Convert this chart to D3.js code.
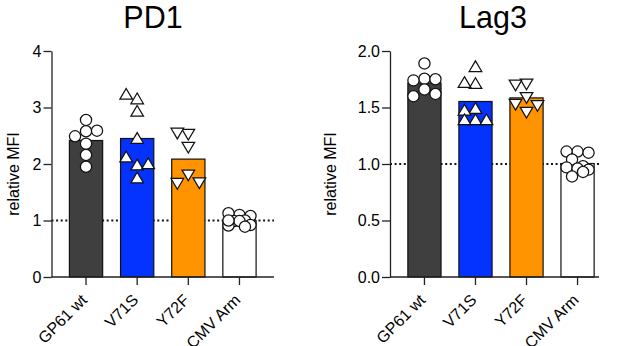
<!DOCTYPE html>
<html>
<head>
<meta charset="utf-8">
<script src="https://cdn.jsdelivr.net/npm/d3@7"></script>
<style>
  body { margin: 0; background: #fff; }
  svg { display: block; font-family: Arial, "Liberation Sans", sans-serif; }
</style>
</head>
<body>
<script>
// categories
const groups = ["GP61 wt", "V71S", "Y72F", "LCMV Arm"];
const symbols = ["circle", "up", "down", "circle"];
const barColors = ["#3f3f3f", "#0433ff", "#ff9300", "#ffffff"];

// PD1 relative MFI, one value per mouse (order = drawing order)
const pd1GP61 = [2.78, 2.58, 2.49, 2.59, 2.36, 2.16, 1.95];
const pd1V71S = [3.15, 3.23, 2.93, 2.45, 1.98, 2.12, 2.0, 1.75];
const pd1Y72F = [2.53, 2.55, 2.30, 1.81, 1.66, 1.67];
const pd1LCMV = [1.10, 1.13, 1.08, 0.99, 1.0, 0.99, 0.92, 0.91, 0.89, 1.0];

// Lag3 relative MFI
const lag3GP61 = [1.89, 1.755, 1.74, 1.75, 1.66, 1.6, 1.62];
const lag3V71S = [1.86, 1.71, 1.72, 1.49, 1.475, 1.39, 1.39, 1.39];
const lag3Y72F = [1.71, 1.70, 1.59, 1.53, 1.52, 1.46];
const lag3LCMV = [1.11, 1.11, 1.10, 1.04, 0.98, 0.97, 0.96, 0.95, 0.89, 0.93];

// y tick labels
const pd1Ticks = [0, 1, 2, 3, 4];
const lag3Ticks = [0, 0.5, 1.0, 1.5, 2.0];

const width = 617, height = 346;
const font = "Arial, 'Liberation Sans', sans-serif";

const svg = d3.select("body").append("svg")
    .attr("width", width)
    .attr("height", height)
    .attr("viewBox", [0, 0, width, height]);

// panel layout
const panels = [
  { title: "PD1", series: [pd1GP61, pd1V71S, pd1Y72F, pd1LCMV], ticks: pd1Ticks, fmt: d3.format("d"),
    yMax: 4, left: 51.5, axisEnd: 274, bandEnd: 274, titleX: 153, labelX: 13 },
  { title: "Lag3", series: [lag3GP61, lag3V71S, lag3Y72F, lag3LCMV], ticks: lag3Ticks, fmt: d3.format(".1f"),
    yMax: 2, left: 390, axisEnd: 599, bandEnd: 612, titleX: 493, labelX: 330 }
];
const plotTop = 51, plotBottom = 277;

// simple dodge so that symbols sit side by side like in a scatter column
function dodge(ys, step, minDist, maxOff) {
  const placed = [];
  const cands = [0];
  for (let k = 1; k * step <= maxOff + 0.01; k++) { cands.push(-k * step, k * step); }
  ys.forEach(y => {
    let best = 0, bestD = -1;
    for (const c of cands) {
      let d = Infinity;
      placed.forEach(p => { d = Math.min(d, Math.hypot(p.x - c, p.y - y)); });
      if (d >= minDist) { best = c; bestD = Infinity; break; }
      if (d > bestD) { bestD = d; best = c; }
    }
    placed.push({ x: best, y: y });
  });
  return placed;
}

const tri = 6.3;
const symbolPath = {
  up: `M0,${-tri * 0.95}L${tri},${tri * 0.75}L${-tri},${tri * 0.75}Z`,
  down: `M0,${tri * 0.95}L${tri},${-tri * 0.75}L${-tri},${-tri * 0.75}Z`
};

panels.forEach(p => {
  const g = svg.append("g");
  const x = d3.scaleBand(groups, [p.left, p.bandEnd]).padding(0.35);
  const y = d3.scaleLinear([0, p.yMax], [plotBottom, plotTop]);

  // title
  g.append("text")
      .attr("x", p.titleX)
      .attr("y", 27.5)
      .attr("text-anchor", "middle")
      .style("font-size", "30.5px")
      .attr("fill", "#000")
      .text(p.title);

  // y label
  g.append("text")
      .attr("transform", `translate(${p.labelX},${(plotTop + plotBottom) / 2 + 10}) rotate(-90)`)
      .attr("text-anchor", "middle")
      .attr("dy", "0.35em")
      .style("font-size", "16px")
      .attr("fill", "#000")
      .text("relative MFI");

  // dotted reference line at 1
  g.append("line")
      .attr("x1", p.left).attr("x2", p.axisEnd)
      .attr("y1", y(1)).attr("y2", y(1))
      .attr("stroke", "#111")
      .attr("stroke-width", 2)
      .attr("stroke-dasharray", "2,2.6");

  // bars (mean)
  g.selectAll(".bar")
    .data(groups)
    .join("rect")
      .attr("class", "bar")
      .attr("x", d => x(d))
      .attr("width", x.bandwidth())
      .attr("y", (d, i) => y(d3.mean(p.series[i])))
      .attr("height", (d, i) => plotBottom - y(d3.mean(p.series[i])))
      .attr("fill", (d, i) => barColors[i])
      .attr("stroke", "#111")
      .attr("stroke-width", 1.2);

  // individual points
  groups.forEach((grp, i) => {
    const pts = dodge(p.series[i].map(v => y(v)), 5.5, 10.5, 11);
    const cx = x(grp) + x.bandwidth() / 2;
    const sg = g.append("g")
        .attr("fill", "#fff")
        .attr("stroke", "#111")
        .attr("stroke-width", 1.25);
    if (symbols[i] === "circle") {
      sg.selectAll("circle").data(pts).join("circle")
          .attr("cx", d => cx + d.x)
          .attr("cy", d => d.y)
          .attr("r", 5.6);
    } else {
      sg.selectAll("path").data(pts).join("path")
          .attr("transform", d => `translate(${cx + d.x},${d.y})`)
          .attr("d", symbolPath[symbols[i]]);
    }
  });

  // y axis
  g.append("g")
      .attr("transform", `translate(${p.left},0)`)
      .call(d3.axisLeft(y).tickValues(p.ticks).tickFormat(p.fmt).tickSize(8).tickPadding(2).tickSizeOuter(0))
      .call(a => a.selectAll("path, line").attr("stroke", "#222").attr("stroke-width", 1.3))
      .call(a => a.selectAll("text").style("font-size", "16px").attr("fill", "#000").style("font-family", font));

  // x axis
  g.append("g")
      .attr("transform", `translate(0,${plotBottom})`)
      .call(d3.axisBottom(x).tickSize(8).tickPadding(4).tickSizeOuter(0))
      .call(a => a.select(".domain").remove())
      .call(a => a.selectAll("line").attr("stroke", "#222").attr("stroke-width", 1.3))
      .call(a => a.selectAll("text")
          .style("font-size", "16px")
          .attr("fill", "#000")
          .style("font-family", font)
          .attr("text-anchor", "end")
          .attr("dy", 0)
          .attr("transform", "translate(2,24) rotate(-45)")
          .attr("y", 0).attr("x", 0));
  g.append("line")
      .attr("x1", p.left).attr("x2", p.axisEnd)
      .attr("y1", plotBottom).attr("y2", plotBottom)
      .attr("stroke", "#222")
      .attr("stroke-width", 1.3);
});
</script>
</body>
</html>
